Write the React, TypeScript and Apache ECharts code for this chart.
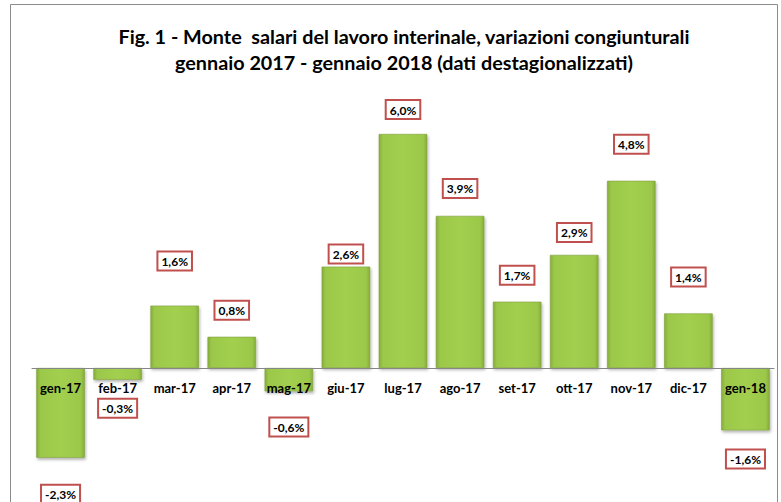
import React, { useEffect, useRef } from "react";
import * as echarts from "echarts";

const categories = [
  "gen-17", "feb-17", "mar-17", "apr-17", "mag-17", "giu-17", "lug-17",
  "ago-17", "set-17", "ott-17", "nov-17", "dic-17", "gen-18",
];
const values = [-2.3, -0.3, 1.6, 0.8, -0.6, 2.6, 6.0, 3.9, 1.7, 2.9, 4.8, 1.4, -1.6];
const labelDistances = [28, 20, 36, 18, 27, 4, 16, 19, 18, 14, 28, 28, 20];

const FONT = "Lato";
const Y_MIN = -3;
const Y_MAX = 7;
const GRID_TOP = 95;
const GRID_HEIGHT = 390;

export default function App() {
  const ref = useRef<HTMLDivElement>(null);
  useEffect(() => {
    if (!ref.current) return;
    const chart = echarts.init(ref.current, undefined, { renderer: "svg" });
    const barColor = new echarts.graphic.LinearGradient(0, 0, 1, 0, [
      { offset: 0, color: "#86ad3a" },
      { offset: 0.08, color: "#9cc84a" },
      { offset: 0.5, color: "#a3cf4f" },
      { offset: 0.92, color: "#9cc84a" },
      { offset: 1, color: "#86ad3a" },
    ]);
    // distance from grid bottom to the zero line, so the category axis sits on zero
    const zeroOffset = -(GRID_HEIGHT * (0 - Y_MIN)) / (Y_MAX - Y_MIN);
    chart.setOption({
      animation: false,
      backgroundColor: "#ffffff",
      title: {
        text: "Fig. 1 - Monte  salari del lavoro interinale, variazioni congiunturali\ngennaio 2017 - gennaio 2018 (dati destagionalizzati)",
        left: 404,
        top: 23,
        padding: 0,
        textAlign: "center",
        textStyle: {
          fontFamily: FONT,
          fontWeight: "bold",
          fontSize: 19.8,
          lineHeight: 26,
          color: "#000000",
        },
      },
      graphic: [
        {
          type: "rect",
          shape: { x: 10.5, y: 4.5, width: 767, height: 540 },
          style: { fill: "none", stroke: "#8c8c8c", lineWidth: 1 },
          silent: true,
        },
      ],
      grid: { left: 32, right: 7, top: GRID_TOP, height: GRID_HEIGHT, outerBoundsMode: "none", containLabel: false },
      xAxis: {
        type: "category",
        data: categories,
        z: 5,
        offset: zeroOffset,
        axisLine: { show: true, onZero: false, lineStyle: { color: "#868686", width: 1 } },
        axisTick: { show: false },
        axisLabel: {
          interval: 0,
          margin: 13,
          fontFamily: FONT,
          fontWeight: "bold",
          fontSize: 13,
          color: "#000000",
        },
      },
      yAxis: {
        type: "value",
        min: Y_MIN,
        max: Y_MAX,
        interval: 1,
        show: true,
        axisLine: { show: false },
        axisTick: { show: false },
        axisLabel: { show: false },
        splitLine: { show: false },
      },
      series: [
        {
          type: "bar",
          barWidth: "85%",
          z: 2,
          itemStyle: {
            color: barColor,
            borderColor: "#7f9f3a",
            borderWidth: 0.6,
            shadowColor: "rgba(0,0,0,0.3)",
            shadowBlur: 3,
            shadowOffsetX: 1,
            shadowOffsetY: 2,
          },
          data: values.map((v, i) => ({
            value: v,
            label: {
              show: true,
              position: v >= 0 ? "top" : "bottom",
              distance: labelDistances[i],
            },
          })),
          label: {
            show: true,
            formatter: (p: any) => p.value.toFixed(1).replace(".", ",") + "%",
            fontFamily: FONT,
            fontWeight: "bold",
            fontSize: 12,
            color: "#000000",
            backgroundColor: "#ffffff",
            borderColor: "#c0504d",
            borderWidth: 2,
            padding: [3, 3, 2, 3],
          },
        },
      ],
    });
    return () => chart.dispose();
  }, []);
  return <div ref={ref} style={{ width: 781, height: 502, position: "absolute", left: 0, top: 0 }} />;
}
